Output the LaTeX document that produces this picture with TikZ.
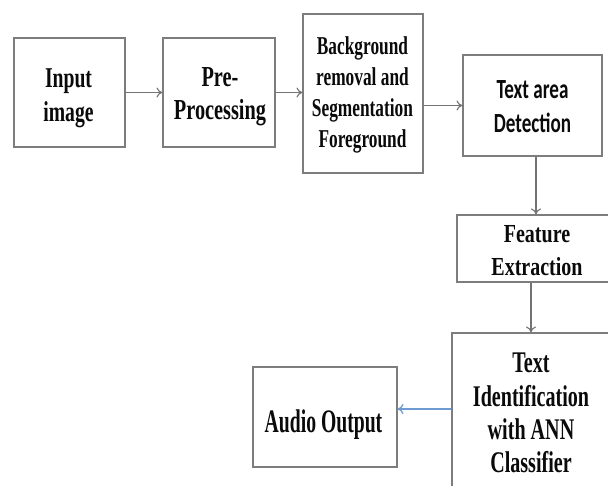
\documentclass[tikz,border=0pt]{standalone}
\usepackage{graphicx}
\usepackage{fontspec}
\setmainfont{Liberation Serif}
\newfontfamily\calib{Carlito}
\usetikzlibrary{arrows.meta,calc}
\newcommand{\sqz}[2]{\scalebox{#1}[1]{\begin{tabular}[t]{@{}c@{}}#2\end{tabular}}}
\definecolor{boxline}{RGB}{125,125,125}
\definecolor{arrowgray}{RGB}{115,115,115}
\definecolor{arrowblue}{RGB}{110,155,210}
\definecolor{txt}{RGB}{10,10,10}
\tikzset{
  box/.style={draw=boxline, line width=1.1pt, rectangle, inner sep=0pt, fill=white},
  lbl/.style={anchor=base, inner sep=0pt, text=txt},
  conn/.style={draw=arrowgray, line width=1.1pt, -{To[length=6pt,width=10pt]}},
  bconn/.style={draw=arrowblue, line width=1.3pt, -{To[length=6pt,width=10pt]}},
}
\begin{document}
\begin{tikzpicture}[x=1pt,y=-1pt]
\useasboundingbox (0,0) rectangle (608,486);
% boxes
\node[box, minimum width=111, minimum height=109] (b1) at (69.5,92.5) {};
\node[box, minimum width=112, minimum height=109] (b2) at (219,92.5) {};
\node[box, minimum width=120, minimum height=159] (b3) at (363,93.5) {};
\node[box, minimum width=139, minimum height=101] (b4) at (532.5,105.5) {};
\node[box, minimum width=160, minimum height=67] (b5) at (537,248.5) {};
\node[box, minimum width=158, minimum height=170] (b6) at (531,418) {};
\node[box, minimum width=144, minimum height=100] (b7) at (325,417) {};
% texts
\node[lbl, font=\bfseries\fontsize{28.7}{34}\selectfont] (t1) at (68.5,88) {\sqz{0.685}{Input\\image}};
\node[lbl, font=\bfseries\fontsize{29}{33}\selectfont] (t2) at (220,86.5) {\sqz{0.70}{Pre-\\Processing}};
\node[lbl, font=\bfseries\fontsize{25.7}{30.7}\selectfont] (t3) at (362.5,55) {\sqz{0.674}{Background\\removal and\\Segmentation\\Foreground}};
\node[lbl, font=\calib\bfseries\fontsize{27.7}{34}\selectfont] (t4) at (532.5,99) {\sqz{0.69}{Text area\\Detection}};
\node[lbl, font=\bfseries\fontsize{26}{33}\selectfont] (t5) at (537,243) {\sqz{0.77}{Feature\\Extraction}};
\node[lbl, font=\bfseries\fontsize{30}{33.3}\selectfont] (t6) at (531,373) {\sqz{0.67}{Text\\Identification\\with ANN\\Classifier}};
\node[lbl, font=\bfseries\fontsize{32.8}{36}\selectfont] (t7) at (323.5,432) {\sqz{0.60}{Audio Output}};
% connectors
\draw[conn] (b1) -- (b2);
\draw[conn] (b2.east) -- (b2.east -| b3.west);
\draw[conn] (b3.east |- b4.west) -- (b4.west);
\draw[conn] ($(b4.south)+(3.5,0)$) -- ($(b4.south |- b5.north)+(3.5,0)$);
\draw[conn] (b6.north |- b5.south) -- (b6.north);
\draw[bconn] ($(b6.west |- b7.east)+(0,-8)$) -- ($(b7.east)+(0,-8)$);
\end{tikzpicture}
\end{document}
